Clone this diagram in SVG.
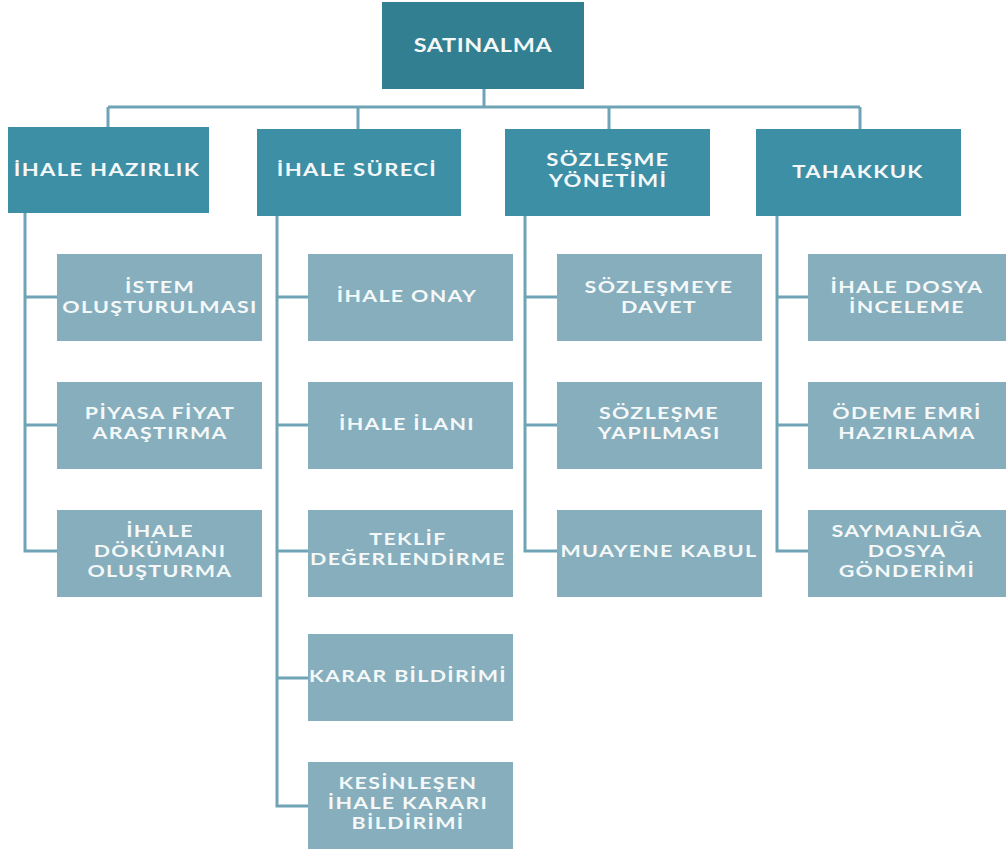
<svg xmlns="http://www.w3.org/2000/svg" width="1006" height="853" viewBox="0 0 1006 853">
  <style>
    .root { fill: #327f91; }
    .head { fill: #3d8fa6; }
    .leaf { fill: #86aebc; }
    .lbl { font-family: Lato, "Open Sans", "DejaVu Sans", sans-serif; font-weight: bold; fill: #f4f8f9; text-anchor: middle;
           transform-box: fill-box; transform-origin: center; transform: scaleX(1.3); }
    .lr { font-size: 18px; letter-spacing: 0.5px; }
    .lh { font-size: 17px; letter-spacing: 1px; }
    .ll { font-size: 16.5px; letter-spacing: 1px; }
    .wire { fill: none; stroke: #6fa3b6; stroke-width: 3; }
  </style>
  <rect width="1006" height="853" fill="#ffffff"/>

  <!-- connectors -->
  <g id="connectors" class="wire">
    <path d="M484 89 V107 M108 107 H860 M108 107 V127 M358 107 V129 M609 107 V129 M860 107 V129"/>
    <path d="M25 213 V551 H57 M25 297 H57 M25 425 H57"/>
    <path d="M277 216 V806 H308 M277 297 H308 M277 425 H308 M277 551 H308 M277 678 H308"/>
    <path d="M525 216 V551 H557 M525 297 H557 M525 425 H557"/>
    <path d="M777 216 V551 H808 M777 297 H808 M777 425 H808"/>
  </g>

  <!-- top -->
  <g id="satinalma">
    <rect class="root" x="382" y="2" width="202" height="87"/>
    <text class="lbl lr" x="483" y="52">SATINALMA</text>
  </g>

  <!-- headers -->
  <g id="ihale-hazirlik">
    <rect class="head" x="8" y="127" width="201" height="86"/>
    <text class="lbl lh" x="107" y="176">İHALE HAZIRLIK</text>
  </g>
  <g id="ihale-sureci">
    <rect class="head" x="257" y="129" width="204" height="87"/>
    <text class="lbl lh" x="357" y="176">İHALE SÜRECİ</text>
  </g>
  <g id="sozlesme-yonetimi">
    <rect class="head" x="505" y="129" width="205" height="87"/>
    <text class="lbl lh" x="608" y="166">SÖZLEŞME</text>
    <text class="lbl lh" x="608" y="187">YÖNETİMİ</text>
  </g>
  <g id="tahakkuk">
    <rect class="head" x="756" y="129" width="205" height="87"/>
    <text class="lbl lh" x="858" y="178">TAHAKKUK</text>
  </g>

  <!-- column 1 -->
  <g id="istem">
    <rect class="leaf" x="57" y="254" width="205" height="87"/>
    <text class="lbl ll" x="160" y="293">İSTEM</text>
    <text class="lbl ll" x="160" y="313">OLUŞTURULMASI</text>
  </g>
  <g id="piyasa">
    <rect class="leaf" x="57" y="382" width="205" height="87"/>
    <text class="lbl ll" x="160" y="419">PİYASA FİYAT</text>
    <text class="lbl ll" x="160" y="439">ARAŞTIRMA</text>
  </g>
  <g id="dokuman">
    <rect class="leaf" x="57" y="510" width="205" height="87"/>
    <text class="lbl ll" x="160" y="537">İHALE</text>
    <text class="lbl ll" x="160" y="557">DÖKÜMANI</text>
    <text class="lbl ll" x="160" y="577">OLUŞTURMA</text>
  </g>

  <!-- column 2 -->
  <g id="ihale-onay">
    <rect class="leaf" x="308" y="254" width="205" height="87"/>
    <text class="lbl ll" x="407" y="302">İHALE ONAY</text>
  </g>
  <g id="ihale-ilani">
    <rect class="leaf" x="308" y="382" width="205" height="87"/>
    <text class="lbl ll" x="407" y="430">İHALE İLANI</text>
  </g>
  <g id="teklif">
    <rect class="leaf" x="308" y="510" width="205" height="87"/>
    <text class="lbl ll" x="408" y="545">TEKLİF</text>
    <text class="lbl ll" x="408" y="565">DEĞERLENDİRME</text>
  </g>
  <g id="karar">
    <rect class="leaf" x="308" y="634" width="205" height="87"/>
    <text class="lbl ll" x="408" y="682">KARAR BİLDİRİMİ</text>
  </g>
  <g id="kesinlesen">
    <rect class="leaf" x="308" y="762" width="205" height="87"/>
    <text class="lbl ll" x="408" y="789">KESİNLEŞEN</text>
    <text class="lbl ll" x="408" y="809">İHALE KARARI</text>
    <text class="lbl ll" x="408" y="829">BİLDİRİMİ</text>
  </g>

  <!-- column 3 -->
  <g id="davet">
    <rect class="leaf" x="557" y="254" width="205" height="87"/>
    <text class="lbl ll" x="659" y="293">SÖZLEŞMEYE</text>
    <text class="lbl ll" x="659" y="313">DAVET</text>
  </g>
  <g id="yapilmasi">
    <rect class="leaf" x="557" y="382" width="205" height="87"/>
    <text class="lbl ll" x="659" y="419">SÖZLEŞME</text>
    <text class="lbl ll" x="659" y="439">YAPILMASI</text>
  </g>
  <g id="muayene">
    <rect class="leaf" x="557" y="510" width="205" height="87"/>
    <text class="lbl ll" x="659" y="557">MUAYENE KABUL</text>
  </g>

  <!-- column 4 -->
  <g id="dosya-inceleme">
    <rect class="leaf" x="808" y="254" width="198" height="87"/>
    <text class="lbl ll" x="907" y="293">İHALE DOSYA</text>
    <text class="lbl ll" x="907" y="313">İNCELEME</text>
  </g>
  <g id="odeme">
    <rect class="leaf" x="808" y="382" width="198" height="87"/>
    <text class="lbl ll" x="907" y="419">ÖDEME EMRİ</text>
    <text class="lbl ll" x="907" y="439">HAZIRLAMA</text>
  </g>
  <g id="saymanlik">
    <rect class="leaf" x="808" y="510" width="198" height="87"/>
    <text class="lbl ll" x="907" y="537">SAYMANLIĞA</text>
    <text class="lbl ll" x="907" y="557">DOSYA</text>
    <text class="lbl ll" x="907" y="577">GÖNDERİMİ</text>
  </g>
</svg>
